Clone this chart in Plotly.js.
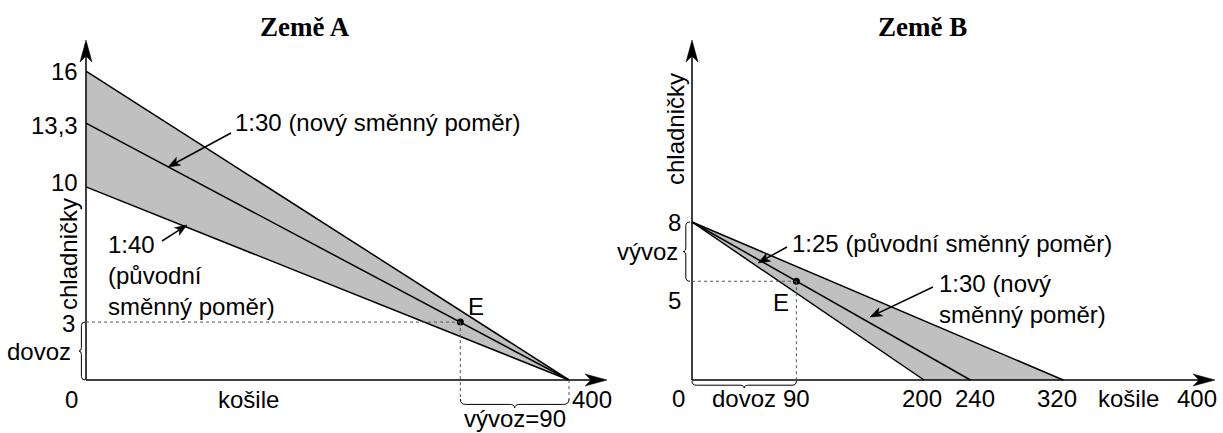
<!DOCTYPE html>
<html><head><meta charset="utf-8">
<script src="https://cdn.plot.ly/plotly-3.0.1.min.js"></script>
<style>html,body{margin:0;padding:0;background:#fff}#chart{width:1223px;height:433px}</style>
</head><body><div id="chart"></div>
<script>
// ---------------- data ----------------
const titleA = 'Země A';
const titleB = 'Země B';
const xLabel = 'košile';
const yLabel = 'chladničky';

// Země A (košile on x, chladničky on y)
const aShirts = [0, 400];
const aFridgeOld = [10, 0];     // 1:40 (původní)
const aFridgeNew = [13.3, 0];   // 1:30 (nový)
const aFridgeTop = [16, 0];
const aPointE = [310, 3];
const aTickY = [16, 13.3, 10, 3];
const aTickYText = ['16', '13,3', '10', '3'];
const aTickX = [0, 400];
const aTickXText = ['0', '400'];
const aTexts = {
  newRatio: '1:30 (nový směnný poměr)',
  oldRatio: '1:40<br>(původní<br>směnný poměr)',
  point: 'E', imp: 'dovoz', exp: 'vývoz=90'
};

// Země B
const bFridge = [8, 0];
const bShirtsOld = [0, 200];   // 1:25 (původní)
const bShirtsNew = [0, 240];   // 1:30 (nový)
const bShirtsTop = [0, 320];
const bPointE = [90, 5];
const bTickY = [8, 5];
const bTickYText = ['8', '5'];
const bTickX = [0, 90, 200, 240, 320, 400];
const bTickXText = ['0', '90', '200', '240', '320', '400'];
const bTexts = {
  oldRatio: '1:25 (původní směnný poměr)',
  newRatio: '1:30 (nový<br>směnný poměr)',
  point: 'E', imp: 'dovoz', exp: 'vývoz'
};

// ---------------- geometry (pixels) ----------------
const W = 1223, H = 433;
const GA = {xa: 'x', ya: 'y', x0: 86, sx: 1.2075, y0: 380, sy: 19.31, left: 0, right: 622, top: 40, xend: 607};
const GB = {xa: 'x2', ya: 'y2', x0: 692, sx: 1.16, y0: 380, sy: 19.75, left: 628, right: 1223, top: 40, xend: 1215};
const toD = (g, px, py) => [(px - g.x0) / g.sx, (g.y0 - py) / g.sy];
const toP = (g, x, y) => [g.x0 + x * g.sx, g.y0 - y * g.sy];
const fmt = (g, p) => { const d = toD(g, p[0], p[1]); return d[0].toFixed(4) + ',' + d[1].toFixed(4); };

const FONT = 'Liberation Sans, Arial, sans-serif';
const FS = 24;
const shapes = [];
const annotations = [];

function line(g, x0, y0, x1, y1, opts) {
  shapes.push(Object.assign({type: 'line', xref: g.xa, yref: g.ya, x0, y0, x1, y1,
    line: {color: '#000', width: 1.5}}, opts || {}));
}
// arrowhead at tip (data) pointing away from tail (data)
function arrowHead(g, tip, tail, len, hw, notch) {
  const T = toP(g, tip[0], tip[1]), S = toP(g, tail[0], tail[1]);
  let dx = T[0] - S[0], dy = T[1] - S[1];
  const L = Math.hypot(dx, dy); dx /= L; dy /= L;
  const nx = -dy, ny = dx;
  const b = [T[0] - dx * len, T[1] - dy * len];
  const p1 = [b[0] + nx * hw, b[1] + ny * hw];
  const p2 = [T[0] - dx * (len - notch), T[1] - dy * (len - notch)];
  const p3 = [b[0] - nx * hw, b[1] - ny * hw];
  shapes.push({type: 'path', xref: g.xa, yref: g.ya,
    path: 'M' + fmt(g, T) + 'L' + fmt(g, p1) + 'L' + fmt(g, p2) + 'L' + fmt(g, p3) + 'Z',
    fillcolor: '#000', line: {color: '#000', width: 0.5}});
  return toD(g, p2[0], p2[1]);
}
function pointer(g, tailPx, headPx) {
  const tail = toD(g, tailPx[0], tailPx[1]), head = toD(g, headPx[0], headPx[1]);
  const back = arrowHead(g, head, tail, 12, 4.5, 3);
  line(g, tail[0], tail[1], back[0], back[1], {line: {color: '#000', width: 1.5}});
}
// curly brace between two pixel points, bulging along unit normal n by depth d
function brace(g, P0, P1, n, d) {
  let tx = P1[0] - P0[0], ty = P1[1] - P0[1];
  const L = Math.hypot(tx, ty); tx /= L; ty /= L;
  const a = Math.min(0.6 * d, L / 4);
  const Pm = [(P0[0] + P1[0]) / 2, (P0[1] + P1[1]) / 2];
  const add = (P, an, at) => [P[0] + n[0] * an + tx * at, P[1] + n[1] * an + ty * at];
  const path = 'M' + fmt(g, P0) +
    'Q' + fmt(g, add(P0, a, 0)) + ' ' + fmt(g, add(P0, a, a)) +
    'L' + fmt(g, add(Pm, a, -a)) +
    'Q' + fmt(g, add(Pm, a, 0)) + ' ' + fmt(g, add(Pm, d, 0)) +
    'Q' + fmt(g, add(Pm, a, 0)) + ' ' + fmt(g, add(Pm, a, a)) +
    'L' + fmt(g, add(P1, a, -a)) +
    'Q' + fmt(g, add(P1, a, 0)) + ' ' + fmt(g, P1);
  shapes.push({type: 'path', xref: g.xa, yref: g.ya, path, line: {color: '#000', width: 1}});
}
function text(g, x, y, t, o) {
  annotations.push(Object.assign({xref: g.xa, yref: g.ya, x, y, text: t, showarrow: false,
    font: {family: FONT, size: FS, color: '#000'}}, o || {}));
}
function axes(g) {
  const yTop = toD(g, g.x0, g.top)[1];
  const xEnd = toD(g, g.xend, g.y0)[0];
  const by = arrowHead(g, [0, yTop], [0, 0], 22, 6, 6);
  line(g, 0, 0, 0, by[1]);
  const bx = arrowHead(g, [xEnd, 0], [0, 0], 22, 6, 6);
  line(g, 0, 0, bx[0], 0);
}
const dotted = {line: {color: '#555', width: 1, dash: 'dot'}};

// ---------------- traces ----------------
const traces = [];
const lineStyle = {color: '#000', width: 1.5};
// Země A
traces.push({x: [aShirts[0], aShirts[1], aShirts[0]], y: [aFridgeOld[0], aFridgeOld[1], aFridgeTop[0]],
  fill: 'toself', fillcolor: '#c0c0c0', line: {width: 0}, mode: 'lines', xaxis: 'x', yaxis: 'y'});
[aFridgeOld, aFridgeNew, aFridgeTop].forEach(yy =>
  traces.push({x: aShirts, y: yy, mode: 'lines', line: lineStyle, xaxis: 'x', yaxis: 'y'}));
traces.push({x: [aPointE[0]], y: [aPointE[1]], mode: 'markers', marker: {color: '#000', size: 7}, xaxis: 'x', yaxis: 'y'});
// Země B
traces.push({x: [bShirtsOld[0], bShirtsOld[1], bShirtsTop[1]], y: [bFridge[0], bFridge[1], bFridge[1]],
  fill: 'toself', fillcolor: '#c0c0c0', line: {width: 0}, mode: 'lines', xaxis: 'x2', yaxis: 'y2'});
[bShirtsOld, bShirtsNew, bShirtsTop].forEach(xx =>
  traces.push({x: xx, y: bFridge, mode: 'lines', line: lineStyle, xaxis: 'x2', yaxis: 'y2'}));
traces.push({x: [bPointE[0]], y: [bPointE[1]], mode: 'markers', marker: {color: '#000', size: 7}, xaxis: 'x2', yaxis: 'y2'});

// ---------------- decorations A ----------------
axes(GA);
const aBraceY = toD(GA, 0, 399)[1];
line(GA, 0, aPointE[1], aPointE[0], aPointE[1], dotted);
line(GA, aPointE[0], aPointE[1], aPointE[0], aBraceY, dotted);
line(GA, aShirts[1], 0, aShirts[1], aBraceY, dotted);
brace(GA, [85, toP(GA, 0, aPointE[1])[1]], [85, GA.y0], [-1, 0], 6);
brace(GA, [toP(GA, aPointE[0], 0)[0], 399], [toP(GA, aShirts[1], 0)[0], 399], [0, 1], 9);
pointer(GA, [231, 133], [168, 167]);
pointer(GA, [162, 241], [187, 225]);

const nudgeA = {y: {'16': 0, '13,3': -2, '10': 4, '3': -1}, yx: {'16': -6, '13,3': -6, '10': -6, '3': -9},
  x: {'0': -15, '400': 23}};
aTickY.forEach((v, i) => text(GA, 0, v, aTickYText[i], {xanchor: 'right', xshift: nudgeA.yx[aTickYText[i]], yshift: nudgeA.y[aTickYText[i]]}));
aTickX.forEach((v, i) => text(GA, v, 0, aTickXText[i], {yshift: -19, xshift: nudgeA.x[aTickXText[i]]}));
text(GA, toD(GA, 248, 0)[0], 0, xLabel, {yshift: -19});
text(GA, toD(GA, 68, 0)[0], toD(GA, 0, 254)[1], yLabel, {textangle: -90});
text(GA, toD(GA, 233, 0)[0], toD(GA, 0, 122)[1], aTexts.newRatio, {xanchor: 'left'});
text(GA, toD(GA, 106, 0)[0], toD(GA, 0, 275)[1], aTexts.oldRatio, {xanchor: 'left', align: 'left'});
text(GA, aPointE[0], aPointE[1], aTexts.point, {xshift: 16, yshift: 16});
text(GA, 0, aPointE[1] / 2, aTexts.imp, {xanchor: 'right', xshift: -13});
text(GA, (aPointE[0] + aShirts[1]) / 2, 0, aTexts.exp, {yshift: -38});

// ---------------- decorations B ----------------
axes(GB);
line(GB, 0, bPointE[1], bPointE[0], bPointE[1], dotted);
line(GB, bPointE[0], bPointE[1], bPointE[0], 0, dotted);
brace(GB, [690, toP(GB, 0, bFridge[0])[1]], [690, toP(GB, 0, bPointE[1])[1]], [-1, 0], 7);
brace(GB, [GB.x0, 381], [toP(GB, bPointE[0], 0)[0], 381], [0, 1], 7);
pointer(GB, [787, 247], [758, 263]);
pointer(GB, [933, 287], [870, 317]);

const nudgeB = {y: {'8': 0, '5': -19}, x: {'0': -14, '90': 0, '200': -2, '240': 5, '320': -6, '400': 41}};
bTickY.forEach((v, i) => text(GB, 0, v, bTickYText[i], {xanchor: 'right', xshift: -9, yshift: nudgeB.y[bTickYText[i]]}));
bTickX.forEach((v, i) => text(GB, v, 0, bTickXText[i], {yshift: -18, xshift: nudgeB.x[bTickXText[i]]}));
text(GB, toD(GB, 1128, 0)[0], 0, xLabel, {yshift: -18});
text(GB, toD(GB, 675, 0)[0], toD(GB, 0, 129)[1], yLabel, {textangle: -90});
text(GB, toD(GB, 790, 0)[0], toD(GB, 0, 243)[1], bTexts.oldRatio, {xanchor: 'left'});
text(GB, toD(GB, 937, 0)[0], toD(GB, 0, 299)[1], bTexts.newRatio, {xanchor: 'left', align: 'left'});
text(GB, bPointE[0], bPointE[1], bTexts.point, {xshift: -15, yshift: -21});
text(GB, 0, (bFridge[0] + bPointE[1]) / 2, bTexts.exp, {xanchor: 'right', xshift: -12});
text(GB, bPointE[0] / 2, 0, bTexts.imp, {yshift: -18});

// titles
const titleFont = {family: 'Liberation Serif, Times New Roman, serif', size: 27, color: '#000'};
annotations.push({xref: 'paper', yref: 'paper', x: 305 / W, y: 1 - 27 / H, xanchor: 'center', yanchor: 'middle',
  text: '<b>' + titleA + '</b>', showarrow: false, font: titleFont});
annotations.push({xref: 'paper', yref: 'paper', x: 922 / W, y: 1 - 27 / H, xanchor: 'center', yanchor: 'middle',
  text: '<b>' + titleB + '</b>', showarrow: false, font: titleFont});

function axisDefs(g) {
  return {
    x: {domain: [g.left / W, g.right / W], range: [(g.left - g.x0) / g.sx, (g.right - g.x0) / g.sx],
      showgrid: false, zeroline: false, showline: false, showticklabels: false, ticks: '', fixedrange: true},
    y: {domain: [0, 1], range: [(g.y0 - H) / g.sy, g.y0 / g.sy],
      showgrid: false, zeroline: false, showline: false, showticklabels: false, ticks: '', fixedrange: true}
  };
}
const da = axisDefs(GA), db = axisDefs(GB);
db.y.anchor = 'x2'; db.x.anchor = 'y2';

const layout = {
  width: W, height: H, margin: {l: 0, r: 0, t: 0, b: 0},
  paper_bgcolor: '#fff', plot_bgcolor: 'rgba(0,0,0,0)', showlegend: false,
  xaxis: da.x, yaxis: da.y, xaxis2: db.x, yaxis2: db.y,
  shapes, annotations, hovermode: false
};
Plotly.newPlot('chart', traces, layout, {displayModeBar: false, staticPlot: true});
</script>
</body></html>
